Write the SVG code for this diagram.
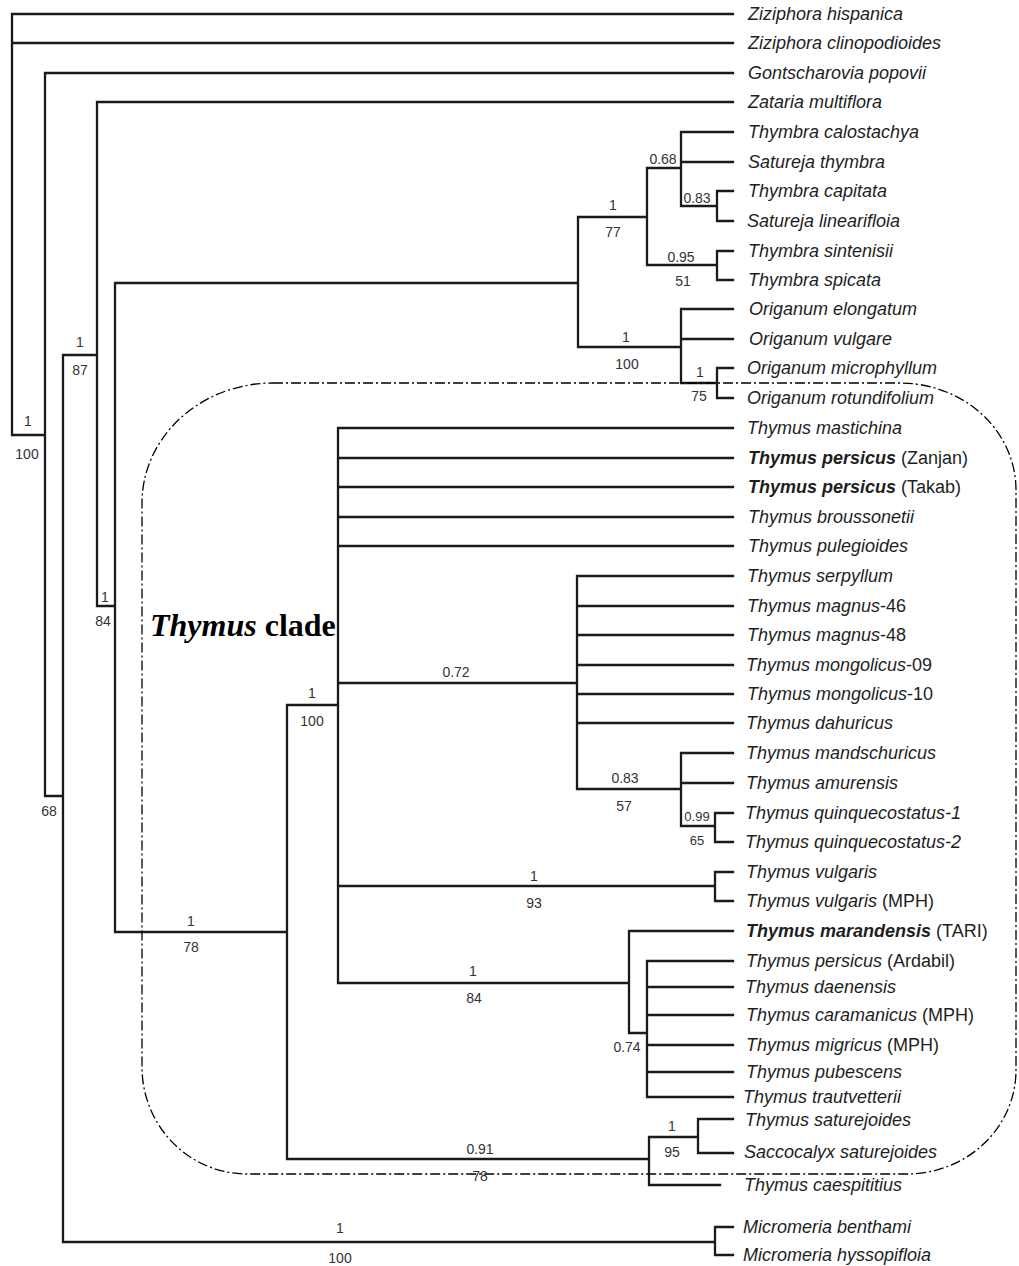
<svg xmlns="http://www.w3.org/2000/svg" width="1019" height="1266" viewBox="0 0 1019 1266">
<style>
.br{fill:none;stroke:#1a1a1a;stroke-width:2.3;stroke-linecap:square}
.lf{font-family:"Liberation Sans",Arial,sans-serif;font-size:18px;font-style:italic;fill:#1e1e1e}
.b{font-weight:bold}
.r{font-style:normal}
.s{font-family:"Liberation Sans",Arial,sans-serif;font-size:14px;fill:#333;text-anchor:middle}
.ss{font-size:13px}
.clade{fill:none;stroke:#000;stroke-width:1.3;stroke-dasharray:10 3 2 3}
.ct{font-family:"Liberation Serif","Times New Roman",serif;font-size:32px;font-weight:bold;fill:#000}
</style>
<rect width="1019" height="1266" fill="#fff"/>
<g id="connectors">
<path class="br" d="M12 14V435M12 14H733M12 43H733M12 435H45
M45 73V796M45 73H733M45 796H63
M63 355V1242M63 355H97M63 1242H715
M715 1227V1255M715 1227H733M715 1255H733
M97 102V606M97 102H733M97 606H115
M115 283V932M115 283H578M115 932H287
M578 217V347M578 217H647M647 168V265M647 168H681M681 132V206M681 132H733M681 162H733
M681 206H717M717 191V221M717 191H733M717 221H733
M647 265H717M717 251V280M717 251H733M717 280H733
M578 347H681M681 309V383M681 309H733M681 339H733M681 383H717M717 368V398M717 368H733M717 398H733
M287 705V1159M287 705H338M338 428V983
M338 428H733M338 458H733M338 487H733M338 517H733M338 546H733
M338 683H577M577 576V789M577 576H733M577 606H733M577 635H733M577 665H733M577 694H733M577 723H733
M577 789H681M681 753V826M681 753H733M681 783H733M681 826H715M715 813V842M715 813H733M715 842H733
M338 886H715M715 872V901M715 872H733M715 901H733
M338 983H629M629 931V1033M629 931H733M629 1033H647M647 961V1097
M647 961H733M647 987H733M647 1015H733M647 1045H733M647 1072H733M647 1097H733
M287 1159H649M649 1137V1185M649 1137H698M698 1119V1153M698 1119H733M698 1153H733M649 1185H720"/>
</g>
<g id="clade-box">
<path class="clade" d="M273 383H900A116 107 0 0 1 1016 490V1070A109 104 0 0 1 907 1174H247A105 107 0 0 1 142 1067V503A131 120 0 0 1 273 383Z"/>
<text class="ct" x="150" y="636"><tspan font-style="italic">Thymus</tspan> clade</text>
</g>
<g id="support">
<text class="s" x="28" y="426">1</text><text class="s" x="27" y="459">100</text>
<text class="s" x="49" y="816">68</text>
<text class="s" x="80" y="347">1</text><text class="s" x="80" y="375">87</text>
<text class="s" x="105" y="602">1</text><text class="s" x="103" y="626">84</text>
<text class="s" x="191" y="926">1</text><text class="s" x="191" y="952">78</text>
<text class="s" x="312" y="698">1</text><text class="s" x="312" y="726">100</text>
<text class="s" x="613" y="210">1</text><text class="s" x="613" y="237">77</text>
<text class="s" x="663" y="164">0.68</text>
<text class="s" x="697" y="203">0.83</text>
<text class="s" x="681" y="262">0.95</text><text class="s" x="683" y="286">51</text>
<text class="s" x="626" y="342">1</text><text class="s" x="627" y="369">100</text>
<text class="s" x="700" y="377">1</text><text class="s" x="699" y="401">75</text>
<text class="s" x="456" y="677">0.72</text>
<text class="s" x="625" y="783">0.83</text><text class="s" x="624" y="811">57</text>
<text class="s ss" x="697" y="821">0.99</text><text class="s ss" x="697" y="845">65</text>
<text class="s" x="534" y="881">1</text><text class="s" x="534" y="908">93</text>
<text class="s" x="473" y="976">1</text><text class="s" x="474" y="1003">84</text>
<text class="s" x="627" y="1052">0.74</text>
<text class="s" x="672" y="1131">1</text><text class="s" x="672" y="1157">95</text>
<text class="s" x="480" y="1154">0.91</text><text class="s" x="480" y="1181">78</text>
<text class="s" x="340" y="1233">1</text><text class="s" x="340" y="1263">100</text>
</g>
<g id="taxa">
<text id="t1" class="lf" x="748" y="20">Ziziphora hispanica</text>
<text id="t2" class="lf" x="748" y="49">Ziziphora clinopodioides</text>
<text id="t3" class="lf" x="748" y="79">Gontscharovia popovii</text>
<text id="t4" class="lf" x="748" y="108">Zataria multiflora</text>
<text id="t5" class="lf" x="748" y="138">Thymbra calostachya</text>
<text id="t6" class="lf" x="748" y="168">Satureja thymbra</text>
<text id="t7" class="lf" x="748" y="197">Thymbra capitata</text>
<text id="t8" class="lf" x="747" y="227">Satureja linearifloia</text>
<text id="t9" class="lf" x="748" y="257">Thymbra sintenisii</text>
<text id="t10" class="lf" x="748" y="286">Thymbra spicata</text>
<text id="t11" class="lf" x="749" y="315">Origanum elongatum</text>
<text id="t12" class="lf" x="749" y="345">Origanum vulgare</text>
<text id="t13" class="lf" x="747" y="374">Origanum microphyllum</text>
<text id="t14" class="lf" x="747" y="404">Origanum rotundifolium</text>
<text id="t15" class="lf" x="747" y="434">Thymus mastichina</text>
<text id="t16" class="lf" x="748" y="464"><tspan class="b">Thymus persicus</tspan><tspan class="r"> (Zanjan)</tspan></text>
<text id="t17" class="lf" x="748" y="493"><tspan class="b">Thymus persicus</tspan><tspan class="r"> (Takab)</tspan></text>
<text id="t18" class="lf" x="748" y="523">Thymus broussonetii</text>
<text id="t19" class="lf" x="748" y="552">Thymus pulegioides</text>
<text id="t20" class="lf" x="747" y="582">Thymus serpyllum</text>
<text id="t21" class="lf" x="747" y="612">Thymus magnus<tspan class="r">-46</tspan></text>
<text id="t22" class="lf" x="747" y="641">Thymus magnus<tspan class="r">-48</tspan></text>
<text id="t23" class="lf" x="746" y="671">Thymus mongolicus<tspan class="r">-09</tspan></text>
<text id="t24" class="lf" x="747" y="700">Thymus mongolicus<tspan class="r">-10</tspan></text>
<text id="t25" class="lf" x="746" y="729">Thymus dahuricus</text>
<text id="t26" class="lf" x="746" y="759">Thymus mandschuricus</text>
<text id="t27" class="lf" x="746" y="789">Thymus amurensis</text>
<text id="t28" class="lf" x="745" y="819">Thymus quinquecostatus-1</text>
<text id="t29" class="lf" x="745" y="848">Thymus quinquecostatus-2</text>
<text id="t30" class="lf" x="746" y="878">Thymus vulgaris</text>
<text id="t31" class="lf" x="746" y="907">Thymus vulgaris<tspan class="r"> (MPH)</tspan></text>
<text id="t32" class="lf" x="746" y="937"><tspan class="b">Thymus marandensis</tspan><tspan class="r"> (TARI)</tspan></text>
<text id="t33" class="lf" x="746" y="967">Thymus persicus<tspan class="r"> (Ardabil)</tspan></text>
<text id="t34" class="lf" x="745" y="993">Thymus daenensis</text>
<text id="t35" class="lf" x="746" y="1021">Thymus caramanicus<tspan class="r"> (MPH)</tspan></text>
<text id="t36" class="lf" x="746" y="1051">Thymus migricus<tspan class="r"> (MPH)</tspan></text>
<text id="t37" class="lf" x="746" y="1078">Thymus pubescens</text>
<text id="t38" class="lf" x="743" y="1103">Thymus trautvetterii</text>
<text id="t39" class="lf" x="745" y="1126">Thymus saturejoides</text>
<text id="t40" class="lf" x="744" y="1158">Saccocalyx saturejoides</text>
<text id="t41" class="lf" x="744" y="1191">Thymus caespititius</text>
<text id="t42" class="lf" x="743" y="1233">Micromeria benthami</text>
<text id="t43" class="lf" x="743" y="1261">Micromeria hyssopifloia</text>
</g>
</svg>
